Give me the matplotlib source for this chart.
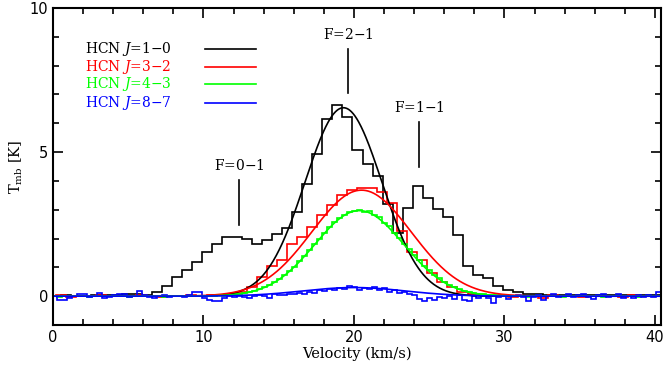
import numpy as np
import matplotlib.pyplot as plt

plt.rcParams['font.family'] = ['DejaVu Serif']
plt.rcParams['mathtext.fontset'] = 'dejavuserif'

# channel grids (start, width) for each spectrum
v0_10, dv_10 = -0.11, 0.667
v0_32, dv_32 = -0.47, 0.667
v0_43, dv_43 = -0.08, 0.332
v0_87, dv_87 = -0.08, 0.332

# HCN J=1-0 spectrum
t_10 = [0.02, 0.03, 0.0, 0.02, 0.04, 0.03, 0.05, 0.09, 0.08, 0.05,
        0.15, 0.35, 0.67, 0.9, 1.19, 1.52, 1.8, 2.06, 2.04, 1.97,
        1.82, 1.96, 2.15, 2.35, 2.93, 3.88, 4.95, 6.15, 6.65, 6.22,
        5.06, 4.6, 4.18, 3.2, 2.2, 3.05, 3.82, 3.39, 3.03, 2.74,
        2.12, 1.04, 0.73, 0.63, 0.35, 0.23, 0.15, 0.09, 0.07, 0.04,
        0.05, 0.03, 0.05, 0.04, 0.03, 0.04, 0.03, 0.04, 0.05, 0.03,
        0.04, 0.03]

# HCN J=3-2 spectrum
t_32 = [0.01, 0.03, -0.02, 0.0, 0.02, 0.04, -0.01, 0.02, 0.0, 0.03,
        0.01, -0.02, 0.02, 0.01, 0.03, 0.02, 0.03, 0.05, 0.08,
        0.15, 0.32, 0.67, 1.04, 1.25, 1.8, 2.06, 2.4, 2.81, 3.16,
        3.5, 3.68, 3.74, 3.74, 3.62, 3.22, 2.25, 1.52, 1.24, 0.8,
        0.5, 0.32, 0.15, 0.07,
        0.03, 0.01, 0.04, -0.02, 0.02, 0.0, -0.06, 0.03, 0.01, 0.02,
        -0.03, 0.0, 0.02, 0.01, -0.02, 0.03, 0.0, 0.02, 0.01]

# HCN J=4-3 spectrum
t_43 = [0.01, -0.02, 0.0, 0.02, -0.01, 0.01, 0.0, -0.02, 0.01, 0.02,
        0.0, -0.01, 0.01, 0.0, 0.02, -0.02, 0.01, 0.0, 0.02, -0.01,
        0.0, 0.01, -0.02, 0.0, 0.01, 0.02, -0.01, 0.0, 0.01, 0.0,
        0.01, 0.02, 0.0, 0.03, 0.02, 0.05, 0.06, 0.09, 0.1, 0.15,
        0.19, 0.25, 0.31, 0.4, 0.5, 0.6, 0.74, 0.88, 1.03, 1.22,
        1.4, 1.6, 1.82, 2.0, 2.2, 2.4, 2.56, 2.72, 2.83, 2.92,
        2.97, 2.98, 2.93, 2.95, 2.82, 2.74, 2.55, 2.42, 2.2, 2.03,
        1.8, 1.63, 1.42, 1.24, 1.05, 0.9, 0.74, 0.62, 0.5, 0.4,
        0.31, 0.25, 0.19, 0.15, 0.11, 0.08, 0.06, 0.04, 0.03, 0.02,
        0.02, 0.01, -0.01, 0.02, 0.0, -0.02, 0.01, 0.0, 0.02, -0.01,
        0.01, 0.0, -0.02, 0.01, 0.02, 0.0, -0.01, 0.01, 0.0, 0.02,
        -0.02, 0.0, 0.01, -0.01, 0.02, 0.0, 0.01, -0.02, 0.0, 0.01,
        -0.01, 0.02]

# HCN J=8-7 spectrum
t_87 = [0.02, -0.12, -0.14, -0.08, 0.0, 0.09, 0.07, -0.03, 0.02, 0.1,
        -0.05, -0.02, 0.03, 0.09, 0.06, -0.04, 0.01, 0.18, 0.05, -0.03,
        -0.06, 0.0, 0.03, -0.04, 0.0, 0.02, -0.02, 0.05, 0.15, 0.13,
        -0.05, -0.12, -0.15, -0.18, -0.08, 0.0, -0.04, 0.02, -0.03, -0.06,
        0.0, 0.04, 0.02, -0.05, 0.06, 0.03, 0.05, 0.09, 0.06, 0.12,
        0.08, 0.14, 0.12, 0.2, 0.17, 0.24, 0.2, 0.28, 0.25, 0.35,
        0.33, 0.22, 0.3, 0.24, 0.31, 0.2, 0.28, 0.16, 0.22, 0.12,
        0.14, 0.08, 0.05, -0.1, -0.18, -0.05, -0.14, -0.02, -0.06, 0.0,
        -0.09, 0.04, -0.12, -0.16, 0.02, -0.05, 0.0, -0.06, -0.22, -0.04,
        0.03, -0.1, 0.0, 0.05, -0.03, -0.18, -0.02, 0.04, -0.12, 0.0,
        0.06, -0.03, 0.02, 0.08, -0.04, 0.03, 0.07, -0.02, -0.1, 0.03,
        0.06, -0.03, 0.0, 0.08, -0.05, 0.02, -0.08, 0.04, -0.02, 0.03,
        -0.04, 0.15]

# gaussian fits: amplitude, centre, sigma
fit_10 = [6.54, 19.3, 2.55]
fit_32 = [3.68, 20.5, 3.3]
fit_43 = [2.97, 20.35, 2.95]
fit_87 = [0.3, 20.0, 3.4]

labels = ['HCN $J$=1$-$0', 'HCN $J$=3$-$2', 'HCN $J$=4$-$3', 'HCN $J$=8$-$7']
colors = ['black', '#ff0000', '#00ff00', '#0000ff']

# hyperfine components: velocity, line bottom, line top, label
hfs_v = [12.38, 19.62, 24.32]
hfs_lo = [2.47, 7.04, 4.49]
hfs_hi = [4.03, 8.57, 6.05]
hfs_txt = ['F=0$-$1', 'F=2$-$1', 'F=1$-$1']

fig = plt.figure(figsize=(6.64, 3.65), dpi=100)
ax = fig.add_axes([0.0798, 0.1096, 0.9157, 0.8684])

vv = np.linspace(0, 40.5, 1000)
spectra = [(t_10, v0_10, dv_10, fit_10), (t_32, v0_32, dv_32, fit_32),
           (t_43, v0_43, dv_43, fit_43), (t_87, v0_87, dv_87, fit_87)]
for (t, v0, dv, fit), c in zip(spectra, colors):
    edges = v0 + dv * np.arange(len(t) + 1)
    ax.stairs(t, edges, color=c, lw=1.2)
    a, mu, sig = fit
    ax.plot(vv, a * np.exp(-(vv - mu) ** 2 / (2 * sig ** 2)), color=c, lw=1.2)

# legend drawn by hand
leg_y = [8.57, 7.96, 7.35, 6.72]
for lab, c, y in zip(labels, colors, leg_y):
    ax.text(2.1, y, lab, color=c, fontsize=10, va='center', ha='left')
    ax.plot([10.1, 13.5], [y, y], color=c, lw=1.2)

for v, lo, hi, txt in zip(hfs_v, hfs_lo, hfs_hi, hfs_txt):
    ax.plot([v, v], [lo, hi], color='black', lw=1.2)
    ax.text(v, hi + 0.25, txt, ha='center', va='bottom', fontsize=10)

ax.set_xlim(0, 40.4)
ax.set_ylim(-1, 10)
ax.set_xticks([0, 10, 20, 30, 40])
ax.set_xticks(np.arange(0, 41, 2), minor=True)
ax.set_yticks([0, 5, 10])
ax.set_yticks(np.arange(-1, 11, 1), minor=True)
ax.tick_params(which='both', direction='in', top=True, right=True, width=1.2)
ax.tick_params(which='major', length=7, labelsize=10.5)
ax.tick_params(which='minor', length=4)
for lab in ax.get_xticklabels() + ax.get_yticklabels():
    lab.set_family('DejaVu Sans')
for s in ax.spines.values():
    s.set_linewidth(1.5)

ax.set_xlabel('Velocity (km/s)', fontsize=10.5, labelpad=1)
ax.set_ylabel(r'T$_{\rm mb}$ [K]', fontsize=10.5, labelpad=3)

fig.savefig('out.png', dpi=100)
